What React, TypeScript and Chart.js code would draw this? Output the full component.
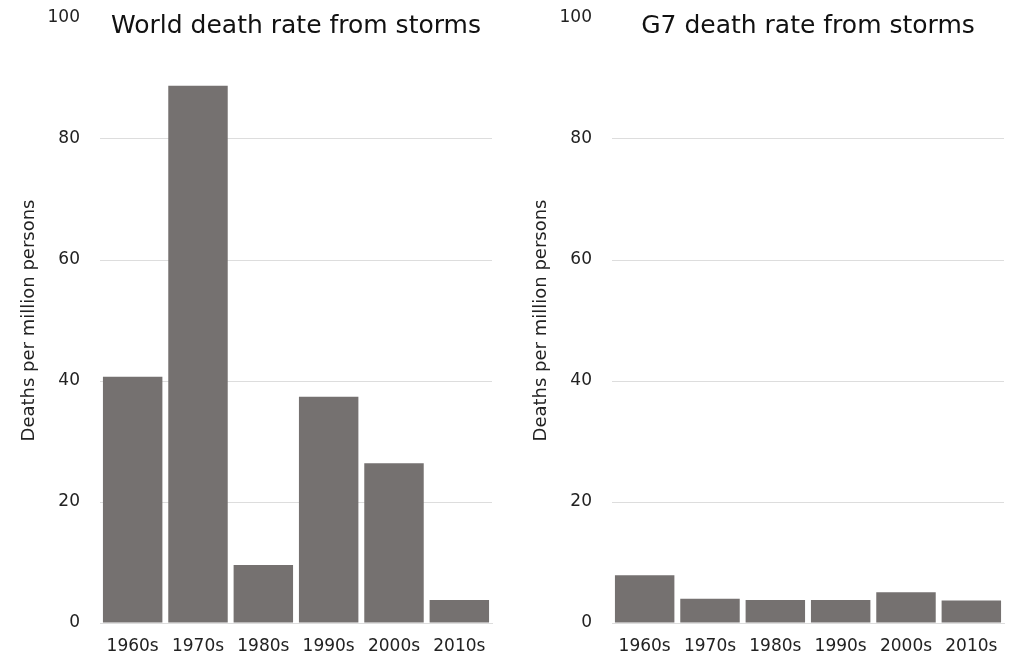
import React, { useEffect, useRef } from "react";
import { Chart, registerables } from "chart.js";

Chart.register(...registerables);

const decades = ["1960s", "1970s", "1980s", "1990s", "2000s", "2010s"];
const worldRates = [40.7, 88.8, 9.6, 37.4, 26.4, 3.8];
const g7Rates = [7.9, 4.0, 3.8, 3.8, 5.1, 3.7];
const yTicks = [0, 20, 40, 60, 80, 100];
const worldTitle = "World death rate from storms";
const g7Title = "G7 death rate from storms";
const yAxisTitle = "Deaths per million persons";

const FONT = "'DejaVu Sans', sans-serif";
const BAR = "#757170";

function Panel({ values, title, left }: { values: number[]; title: string; left: number }) {
  const ref = useRef<HTMLCanvasElement>(null);
  useEffect(() => {
    if (!ref.current) return;
    const chart = new Chart(ref.current, {
      type: "bar",
      data: {
        labels: decades,
        datasets: [
          {
            data: values,
            backgroundColor: BAR,
            barPercentage: 0.91,
            categoryPercentage: 1,
          },
        ],
      },
      options: {
        animation: false,
        responsive: false,
        maintainAspectRatio: false,
        layout: { padding: { top: 18, right: 20, bottom: 0, left: 0 }, autoPadding: false },
        plugins: { legend: { display: false }, tooltip: { enabled: false }, title: { display: false } },
        scales: {
          x: {
            grid: { display: false },
            border: { display: true, color: "#dddddd" },
            ticks: { color: "#222", font: { family: FONT, size: 17 }, padding: 5, maxRotation: 0 },
            afterFit: (s: any) => {
              s.height = 45;
              s.paddingLeft = 0;
              s.paddingRight = 0;
            },
          },
          y: {
            min: 0,
            max: 100,
            afterBuildTicks: (s: any) => {
              s.ticks = yTicks.map((v) => ({ value: v }));
            },
            grid: {
              color: (c: any) => (c.tick && c.tick.value === 100 ? "rgba(0,0,0,0)" : "#dddddd"),
              drawTicks: false,
            },
            border: { display: false },
            ticks: { color: "#222", font: { family: FONT, size: 17 }, padding: 20 },
            title: {
              display: true,
              text: yAxisTitle,
              color: "#222",
              font: { family: FONT, size: 18 },
              padding: { top: 19, bottom: 0 },
            },
            afterFit: (s: any) => {
              s.width = 100;
              s.paddingTop = 0;
              s.paddingBottom = 0;
            },
          },
        },
      },
    });
    return () => chart.destroy();
  }, [values]);
  return (
    <div style={{ position: "absolute", left, top: 0, width: 512, height: 668 }}>
      <canvas ref={ref} width={512} height={668} style={{ width: 512, height: 668, display: "block" }} />
      <div
        style={{
          position: "absolute",
          left: 100,
          width: 392,
          top: 7,
          textAlign: "center",
          fontFamily: FONT,
          fontSize: 25,
          color: "#111",
          lineHeight: "36px",
        }}
      >
        {title}
      </div>
    </div>
  );
}

export default function App() {
  return (
    <div style={{ position: "absolute", left: 0, top: 0, width: 1024, height: 668, background: "#fff", overflow: "hidden" }}>
      <Panel values={worldRates} title={worldTitle} left={0} />
      <Panel values={g7Rates} title={g7Title} left={512} />
    </div>
  );
}
